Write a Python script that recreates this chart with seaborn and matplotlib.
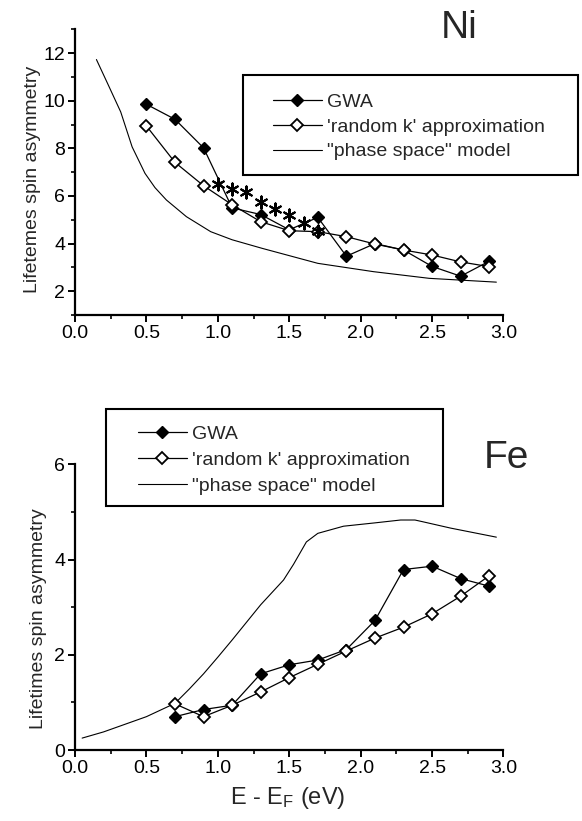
import matplotlib
matplotlib.use("Agg")
import matplotlib.pyplot as plt
import seaborn as sns
import pandas as pd
from matplotlib.patches import Rectangle
from matplotlib.ticker import MultipleLocator

# ---------------- data ----------------
ni_x = [0.5, 0.7, 0.9, 1.1, 1.3, 1.5, 1.7, 1.9, 2.1, 2.3, 2.5, 2.7, 2.9]
ni_gwa = [9.85, 9.22, 8.02, 5.50, 5.22, 4.58, 5.10, 3.47, 4.00, 3.73, 3.04, 2.63, 3.26]
ni_rk = [8.94, 7.41, 6.43, 5.63, 4.92, 4.54, 4.50, 4.29, 3.98, 3.73, 3.52, 3.23, 3.03]
ni_star_x = [1.0, 1.1, 1.2, 1.3, 1.4, 1.5, 1.6, 1.7]
ni_star = [6.50, 6.28, 6.15, 5.75, 5.44, 5.20, 4.86, 4.54]
ni_ps_x = [0.15, 0.23, 0.32, 0.40, 0.49, 0.56, 0.64, 0.78, 0.95, 1.10, 1.31, 1.70, 2.09, 2.48, 2.95]
ni_ps = [11.73, 10.70, 9.53, 8.06, 6.95, 6.35, 5.83, 5.13, 4.50, 4.16, 3.80, 3.17, 2.82, 2.54, 2.38]

fe_x = [0.7, 0.9, 1.1, 1.3, 1.5, 1.7, 1.9, 2.1, 2.3, 2.5, 2.7, 2.9]
fe_gwa = [0.70, 0.85, 0.94, 1.60, 1.79, 1.89, 2.11, 2.72, 3.79, 3.86, 3.60, 3.44]
fe_rk = [0.97, 0.70, 0.94, 1.22, 1.52, 1.80, 2.08, 2.35, 2.58, 2.86, 3.23, 3.66]
fe_ps_x = [0.05, 0.20, 0.50, 0.70, 0.80, 0.90, 1.00, 1.10, 1.30, 1.46, 1.53, 1.62, 1.70,
           1.88, 2.10, 2.28, 2.38, 2.44, 2.63, 2.95]
fe_ps = [0.25, 0.38, 0.70, 0.98, 1.28, 1.60, 1.95, 2.31, 3.05, 3.57, 3.90, 4.37, 4.55,
         4.70, 4.77, 4.83, 4.83, 4.79, 4.66, 4.47]

labels = ["GWA", "'random k' approximation", '"phase space" model']
xticks = [0.0, 0.5, 1.0, 1.5, 2.0, 2.5, 3.0]
xticklabels = ["0.0", "0.5", "1.0", "1.5", "2.0", "2.5", "3.0"]

# ---------------- style ----------------
sns.set_style("ticks")
plt.rcParams["font.family"] = ["Liberation Sans", "DejaVu Sans"]
plt.rcParams["mathtext.default"] = "regular"

W, H = 582, 821
fig = plt.figure(figsize=(W / 100, H / 100), dpi=100)


def px_axes(left, top, right, bottom):
    return fig.add_axes([left / W, 1 - bottom / H, (right - left) / W, (bottom - top) / H])


ax1 = px_axes(75, 29.3, 503.5, 315)
ax2 = px_axes(75, 464.3, 503.5, 750)

line_kw = dict(color="black", linewidth=0.9, estimator=None, sort=False)
filled = dict(marker="D", markersize=6, markerfacecolor="black",
              markeredgecolor="black", markeredgewidth=1.0)
hollow = dict(marker="D", markersize=6, markerfacecolor="white",
              markeredgecolor="black", markeredgewidth=1.3)


def draw(ax, x, gwa, rk, psx, ps):
    sns.lineplot(x=x, y=gwa, ax=ax, label=labels[0], zorder=3, **line_kw, **filled)
    sns.lineplot(x=x, y=rk, ax=ax, label=labels[1], zorder=4, **line_kw, **hollow)
    sns.lineplot(x=psx, y=ps, ax=ax, label=labels[2], color="black", linewidth=0.8,
                 estimator=None, sort=False, zorder=2)


draw(ax1, ni_x, ni_gwa, ni_rk, ni_ps_x, ni_ps)
sns.scatterplot(x=ni_star_x, y=ni_star, ax=ax1, marker=(6, 2, 0), s=75,
                color="black", linewidth=1.5, zorder=5, label="_nolegend_")
draw(ax2, fe_x, fe_gwa, fe_rk, fe_ps_x, fe_ps)

for ax in (ax1, ax2):
    ax.set_xlim(0, 3.0)
    ax.set_xticks(xticks)
    ax.set_xticklabels(xticklabels)
    ax.xaxis.set_minor_locator(MultipleLocator(0.25))
    ax.yaxis.set_minor_locator(MultipleLocator(1))
    sns.despine(ax=ax)
    for s in ("left", "bottom"):
        ax.spines[s].set_linewidth(1.6)
        ax.spines[s].set_color("black")
    ax.tick_params(axis="both", which="major", direction="out", length=5, width=1.4,
                   labelsize=14, colors="black", pad=2)
    ax.tick_params(axis="both", which="minor", direction="out", length=3, width=1.2,
                   colors="black")
    ax.get_legend().remove()

ax1.set_ylim(1, 13)
ax1.set_yticks([2, 4, 6, 8, 10, 12])
ax2.set_ylim(0, 6)
ax2.set_yticks([0, 2, 4, 6])

ax1.set_ylabel("Lifetemes spin asymmetry", fontsize=14)
ax1.yaxis.set_label_coords(-0.079, 0.476)
ax2.set_ylabel("Lifetimes spin asymmetry", fontsize=14)
ax2.yaxis.set_label_coords(-0.066, 0.459)
ax1.set_xlabel("")
ax2.set_xlabel(r"E - E$_F$ (eV)", fontsize=17)
ax2.xaxis.set_label_coords((288 - 75) / 428.5, -(785 - 750) / 285.7)

fig.text(459 / W, 1 - 28 / H, "Ni", fontsize=28, ha="center", va="center")
fig.text(506 / W, 1 - 458 / H, "Fe", fontsize=28, ha="center", va="center")


def legend_box(ax, box, handle_left, rows_center, spacing):
    l, t, r, b = box
    fig.add_artist(Rectangle((l / W, 1 - b / H), (r - l) / W, (b - t) / H,
                             transform=fig.transFigure, fill=False,
                             edgecolor="black", linewidth=1.5, zorder=10))
    handles, labs = ax.get_legend_handles_labels()
    ax.legend(handles, labs, loc="center left", frameon=False,
              bbox_to_anchor=(handle_left / W, 1 - rows_center / H),
              bbox_transform=fig.transFigure, borderpad=0, borderaxespad=0,
              fontsize=14, handlelength=2.5, handletextpad=0.3, labelspacing=spacing)


legend_box(ax1, (243, 75, 578, 175), 273, 127, 0.36)
legend_box(ax2, (106, 409, 443, 506), 138, 460, 0.44)

fig.savefig("out.png", dpi=100)
